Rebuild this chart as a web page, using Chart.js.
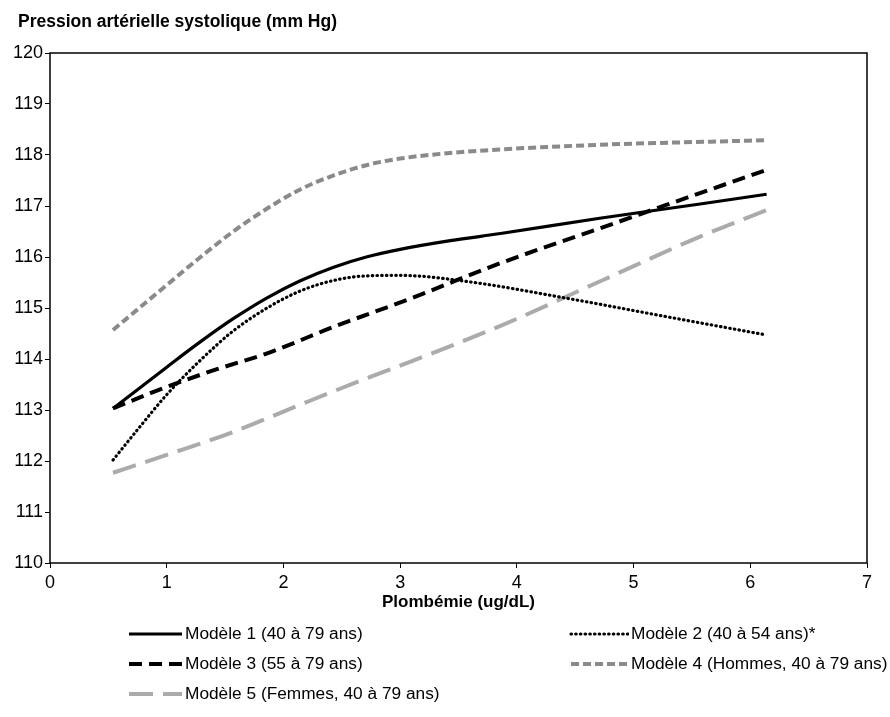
<!DOCTYPE html>
<html>
<head>
<meta charset="utf-8">
<script src="https://cdn.jsdelivr.net/npm/chart.js@4.4.0/dist/chart.umd.min.js"></script>
<style>
  body { margin: 0; background: #fff; font-family: "Liberation Sans", Arial, sans-serif; }
  #wrap { position: relative; width: 890px; height: 717px; }
  #titre { position: absolute; left: 18px; top: 11px; font: bold 17.5px "Liberation Sans", Arial, sans-serif; color: #000; }
  .leg { position: absolute; display: flex; align-items: center; font-size: 17.3px; color: #000; white-space: nowrap; }
  .leg svg { margin-right: 2px; }
</style>
</head>
<body>
<div id="wrap">
  <canvas id="graphique" width="890" height="717"></canvas>
  <div id="titre">Pression artérielle systolique (mm Hg)</div>
  <div id="legende"></div>
</div>
<script>
(function(){

    // plombemie (ug/dL) et pression (mm Hg)
    const xModele1 = [0.54, 1.0, 1.29, 1.57, 1.86, 2.14, 2.43, 2.71, 3.0, 3.43, 3.86, 4.71, 5.57, 6.14];
    const yModele1 = [113.03, 113.84, 114.34, 114.79, 115.2, 115.53, 115.8, 116.0, 116.15, 116.32, 116.46, 116.76, 117.04, 117.23];

    const xModele2 = [0.54, 0.77, 1.0, 1.29, 1.57, 1.86, 2.14, 2.43, 2.71, 3.0, 3.57, 4.43, 5.28, 6.14];
    const yModele2 = [112.02, 112.67, 113.3, 113.98, 114.55, 115.0, 115.33, 115.54, 115.63, 115.64, 115.52, 115.19, 114.83, 114.47];

    const xModele3 = [0.54, 0.86, 1.14, 1.43, 1.86, 2.43, 3.06, 3.86, 4.71, 5.28, 6.14];
    const yModele3 = [113.03, 113.33, 113.57, 113.8, 114.11, 114.63, 115.16, 115.88, 116.56, 117.02, 117.71];

    const xModele4 = [0.54, 1.0, 1.29, 1.57, 1.86, 2.14, 2.43, 2.71, 3.0, 3.43, 3.86, 4.71, 6.14];
    const yModele4 = [114.57, 115.45, 116.0, 116.5, 116.95, 117.32, 117.6, 117.8, 117.93, 118.04, 118.11, 118.2, 118.29];

    const xModele5 = [0.54, 1.0, 1.57, 2.14, 2.71, 3.0, 3.86, 4.71, 5.57, 6.14];
    const yModele5 = [111.77, 112.12, 112.57, 113.1, 113.62, 113.87, 114.65, 115.52, 116.4, 116.92];

    const etiquettes = [
        'Modèle 1 (40 à 79 ans)',
        'Modèle 2 (40 à 54 ans)*',
        'Modèle 3 (55 à 79 ans)',
        'Modèle 4 (Hommes, 40 à 79 ans)',
        'Modèle 5 (Femmes, 40 à 79 ans)'
    ];

    const styles = [
        { color: '#000000', width: 3.2, dash: [], cap: 'butt' },
        { color: '#000000', width: 3.2, dash: [0.5, 4.2], cap: 'round' },
        { color: '#000000', width: 4, dash: [13, 7], cap: 'butt' },
        { color: '#8a8a8a', width: 4, dash: [8, 4], cap: 'butt' },
        { color: '#ababab', width: 4, dash: [24, 10], cap: 'butt' }
    ];

    const series = [
        [xModele1, yModele1],
        [xModele2, yModele2],
        [xModele3, yModele3],
        [xModele4, yModele4],
        [xModele5, yModele5]
    ];

    const datasets = series.map((s, i) => ({
        label: etiquettes[i],
        data: s[0].map((x, j) => ({ x: x, y: s[1][j] })),
        borderColor: styles[i].color,
        borderWidth: styles[i].width,
        borderDash: styles[i].dash,
        borderCapStyle: styles[i].cap,
        pointRadius: 0,
        fill: false,
        cubicInterpolationMode: 'monotone'
    }));

    const cadre = {
        id: 'cadre',
        afterDatasetsDraw(chart) {
            const a = chart.chartArea;
            const c = chart.ctx;
            c.save();
            c.strokeStyle = '#000';
            c.lineWidth = 1.5;
            c.strokeRect(a.left, a.top, a.right - a.left, a.bottom - a.top);
            c.restore();
        }
    };

    const police = '"Liberation Sans", Arial, sans-serif';

    const ctx = document.getElementById('graphique').getContext('2d');
    new Chart(ctx, {
        type: 'line',
        data: { datasets: datasets },
        plugins: [cadre],
        options: {
            responsive: false,
            animation: false,
            layout: { padding: { top: 53, right: 23, bottom: 104, left: 0 } },
            scales: {
                x: {
                    type: 'linear',
                    min: 0,
                    max: 7,
                    ticks: { stepSize: 1, color: '#000', font: { family: police, size: 18 }, padding: 4 },
                    grid: { drawOnChartArea: false, drawTicks: true, tickLength: 5, color: '#000', lineWidth: 1 },
                    border: { display: false },
                    title: { display: true, text: 'Plombémie (ug/dL)', color: '#000', font: { family: police, size: 17, weight: 'bold' }, padding: { top: -3, bottom: 0 } },
                    afterFit(scale) { scale.height = 50; }
                },
                y: {
                    min: 110,
                    max: 120,
                    ticks: { stepSize: 1, color: '#000', font: { family: police, size: 18 }, padding: 2 },
                    grid: { drawOnChartArea: false, drawTicks: true, tickLength: 5, color: '#000', lineWidth: 1 },
                    border: { display: false },
                    afterFit(scale) { scale.width = 50; }
                }
            },
            plugins: {
                legend: { display: false },
                tooltip: { enabled: false }
            }
        }
    });

    // legende en deux colonnes
    const positions = [
        { left: 127, top: 623 },
        { left: 569, top: 623 },
        { left: 127, top: 653 },
        { left: 569, top: 653 },
        { left: 127, top: 683 }
    ];
    const legende = document.getElementById('legende');
    etiquettes.forEach((txt, i) => {
        const st = styles[i];
        const d = document.createElement('div');
        d.className = 'leg';
        d.style.left = positions[i].left + 'px';
        d.style.top = positions[i].top + 'px';
        const dash = st.dash.length ? st.dash.join(' ') : 'none';
        const larg = i % 2 === 1 && i < 4 ? 60 : 56;
        d.innerHTML = '<svg width="' + larg + '" height="20"><line x1="2" y1="10" x2="' + (larg - 1) + '" y2="10" stroke="' + st.color +
            '" stroke-width="' + st.width + '" stroke-dasharray="' + dash + '" stroke-linecap="' + st.cap + '"/></svg>' +
            '<span>' + txt + '</span>';
        legende.appendChild(d);
    });
})();
</script>
</body>
</html>
